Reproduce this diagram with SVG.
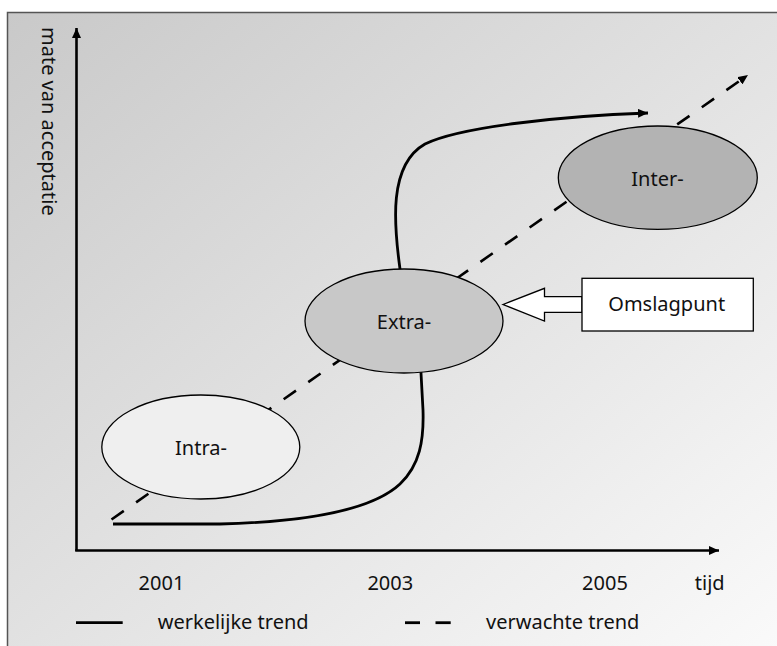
<svg xmlns="http://www.w3.org/2000/svg" width="777" height="646" viewBox="0 0 777 646">
  <defs>
    <linearGradient id="bg" x1="0" y1="0" x2="1" y2="1">
      <stop offset="0" stop-color="#c9c9c9"/>
      <stop offset="1" stop-color="#fbfbfb"/>
    </linearGradient>
    <marker id="arr" viewBox="0 0 10 9" markerWidth="10" markerHeight="9" refX="10" refY="4.5" orient="auto" markerUnits="userSpaceOnUse">
      <path d="M0,0 L10,4.5 L0,9 z" fill="#000"/>
    </marker>
  </defs>
  <style>
    text { font-family: "Noto Sans", "Open Sans", sans-serif; font-size: 20px; fill: #111; }
    .mid { text-anchor: middle; }
    .ax { stroke: #000; stroke-width: 2.6; fill: none; }
    .trend { stroke: #000; stroke-width: 2.8; fill: none; }
    .dash { stroke: #000; stroke-width: 2.6; fill: none; stroke-dasharray: 15 15; }
    .node { stroke: #000; stroke-width: 1.3; }
  </style>
  <rect x="0" y="0" width="777" height="646" fill="#fff"/>
  <rect x="7.5" y="12.5" width="790" height="650" fill="url(#bg)" stroke="#555" stroke-width="1.5"/>

  <text transform="translate(42,27) rotate(90)">mate van acceptatie</text>

  <g id="connectors">
    <line class="ax" x1="76.5" y1="551" x2="76.5" y2="28" marker-end="url(#arr)"/>
    <line class="ax" x1="75.2" y1="550.5" x2="719" y2="550.5" marker-end="url(#arr)"/>
    <line class="dash" x1="111.5" y1="519.5" x2="748" y2="75" marker-end="url(#arr)"/>
    <path class="trend" d="M113,524 L220,524 C300,522 370,512 400,484 C420,465 424,440 423,410 L421,373 C420,330 402,300 400,269 C394,225 388,165 425,144 C460,127 560,116 648,113" marker-end="url(#arr)"/>
  </g>

  <g id="intra">
    <ellipse class="node" cx="200.8" cy="447" rx="99" ry="52" fill="#efefef"/>
    <text class="mid" x="201" y="455">Intra-</text>
  </g>
  <g id="extra">
    <ellipse class="node" cx="404" cy="321" rx="99" ry="52" fill="#c8c8c8"/>
    <text class="mid" x="404" y="329">Extra-</text>
  </g>
  <g id="inter">
    <ellipse class="node" cx="657.8" cy="177.7" rx="99.5" ry="51.7" fill="#b3b3b3"/>
    <text class="mid" x="657.5" y="186">Inter-</text>
  </g>
  <g id="omslagpunt">
    <polygon class="node" points="503,304.5 544.5,288.3 544.5,296.7 582,296.7 582,312.3 544.5,312.3 544.5,321" fill="#fff"/>
    <rect class="node" x="582" y="278.3" width="171.3" height="52.7" fill="#fff"/>
    <text class="mid" x="666.7" y="311">Omslagpunt</text>
  </g>

  <g id="labels">
    <text class="mid" x="161.5" y="590">2001</text>
    <text class="mid" x="390.3" y="590">2003</text>
    <text class="mid" x="605" y="590">2005</text>
    <text class="mid" x="709.7" y="590">tijd</text>
  </g>

  <g id="legend">
    <line class="trend" x1="76" y1="622.7" x2="122.7" y2="622.7"/>
    <text x="157.7" y="629">werkelijke trend</text>
    <line class="trend" x1="405" y1="622.7" x2="420" y2="622.7"/>
    <line class="trend" x1="435.5" y1="622.7" x2="450.7" y2="622.7"/>
    <text x="486" y="629">verwachte trend</text>
  </g>
</svg>
